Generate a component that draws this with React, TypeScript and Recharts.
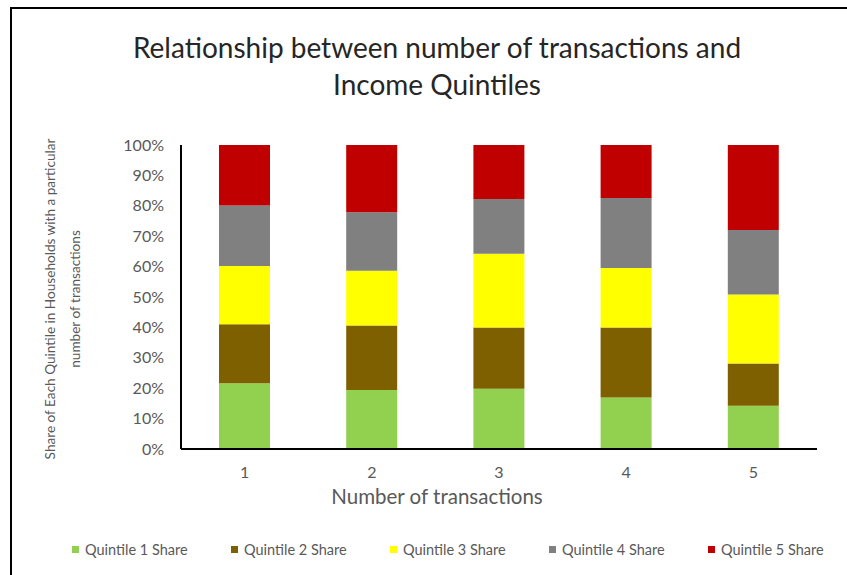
import React from "react";
import { BarChart, Bar, XAxis, YAxis, Label } from "recharts";

// Number of transactions per household (category axis)
const transactions = ["1", "2", "3", "4", "5"];

// Share (%) of each income quintile within each transaction count
const quintile1 = [21.6, 19.4, 19.8, 16.9, 14.2];
const quintile2 = [19.4, 21.2, 20.2, 23.1, 13.9];
const quintile3 = [19.2, 18.0, 24.2, 19.5, 22.7];
const quintile4 = [19.9, 19.3, 18.0, 23.1, 21.2];
const quintile5 = [19.9, 22.1, 17.8, 17.4, 28.0];

const seriesNames = [
  "Quintile 1 Share",
  "Quintile 2 Share",
  "Quintile 3 Share",
  "Quintile 4 Share",
  "Quintile 5 Share",
];
const seriesColors = ["#92D050", "#7F6000", "#FFFF00", "#808080", "#C00000"];
const yTicks = [0, 10, 20, 30, 40, 50, 60, 70, 80, 90, 100];

const data = transactions.map((t, i) => ({
  transactions: t,
  q1: quintile1[i],
  q2: quintile2[i],
  q3: quintile3[i],
  q4: quintile4[i],
  q5: quintile5[i],
}));
const keys = ["q1", "q2", "q3", "q4", "q5"];

const FONT = "Lato, 'Liberation Sans', sans-serif";
const TEXT = "#595959";

const YTitle = (props: any) => {
  const { viewBox } = props;
  const cy = viewBox.y + viewBox.height / 2 + 2;
  return (
    <g fontFamily={FONT} fontSize={13.6} fill={TEXT} textAnchor="middle">
      <text transform={`translate(55, ${cy}) rotate(-90)`}>
        Share of Each Quintile in Households with a particular
      </text>
      <text transform={`translate(80, ${cy}) rotate(-90)`}>number of transactions</text>
    </g>
  );
};

// Axis title is centred on the whole chart width rather than on the plot
const XTitle = (props: any) => {
  const { viewBox } = props;
  return (
    <text
      x={437}
      y={viewBox.y + 55}
      textAnchor="middle"
      fontFamily={FONT}
      fontSize={20.5}
      fill={TEXT}
    >
      Number of transactions
    </text>
  );
};

export default function App() {
  return (
    <div
      style={{
        position: "absolute",
        left: 0,
        top: 0,
        width: 847,
        height: 575,
        background: "#fff",
        overflow: "hidden",
      }}
    >
      <div
        style={{
          position: "absolute",
          left: 10,
          top: 7,
          width: 900,
          height: 700,
          borderTop: "2px solid #000",
          borderLeft: "2px solid #000",
          boxSizing: "border-box",
        }}
      />
      <div
        style={{
          position: "absolute",
          left: 0,
          top: 29,
          width: 874,
          textAlign: "center",
          fontFamily: FONT,
          fontSize: 28,
          lineHeight: "37px",
          color: "#262626",
        }}
      >
        Relationship between number of transactions and
        <br />
        Income Quintiles
      </div>
      <BarChart
        width={847}
        height={575}
        data={data}
        margin={{ top: 145, right: 30, bottom: 0, left: 0 }}
        barSize={51}
        style={{ position: "absolute", left: 0, top: 0 }}
      >
        <XAxis
          dataKey="transactions"
          axisLine={{ stroke: "#000", strokeWidth: 2 }}
          tickLine={false}
          tickMargin={12}
          tick={{ fill: TEXT, fontSize: 16, fontFamily: FONT }}
          height={126}
        >
          <Label content={<XTitle />} />
        </XAxis>
        <YAxis
          width={181}
          domain={[0, 100]}
          ticks={yTicks}
          interval={0}
          tickFormatter={(v: number) => `${v}%`}
          axisLine={{ stroke: "#000", strokeWidth: 2 }}
          tickLine={false}
          tickMargin={11}
          tick={{ fill: TEXT, fontSize: 16, fontFamily: FONT }}
        >
          <Label content={<YTitle />} />
        </YAxis>
        {keys.map((k, i) => (
          <Bar
            key={k}
            dataKey={k}
            name={seriesNames[i]}
            stackId="s"
            fill={seriesColors[i]}
            isAnimationActive={false}
          />
        ))}
      </BarChart>
      <div
        style={{
          position: "absolute",
          left: 72,
          top: 541,
          display: "flex",
          fontFamily: FONT,
          fontSize: 14.5,
          color: TEXT,
        }}
      >
        {seriesNames.map((name, i) => (
          <div
            key={name}
            style={{ display: "flex", alignItems: "center", width: 159, whiteSpace: "nowrap" }}
          >
            <span
              style={{
                display: "inline-block",
                width: 7,
                height: 7,
                background: seriesColors[i],
                marginRight: 6,
              }}
            />
            {name}
          </div>
        ))}
      </div>
    </div>
  );
}
